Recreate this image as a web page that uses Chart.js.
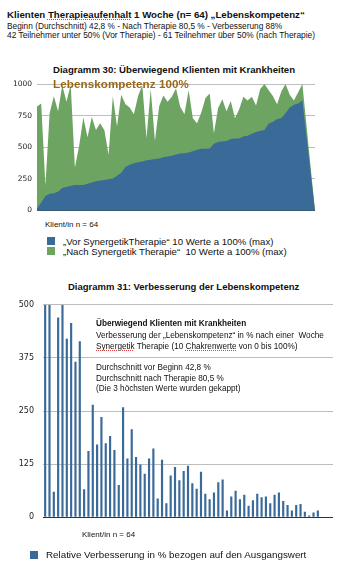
<!DOCTYPE html>
<html>
<head>
<meta charset="utf-8">
<script src="https://cdn.jsdelivr.net/npm/chart.js@4.4.1/dist/chart.umd.min.js"></script>
<style>
body { margin: 0; background: #fff; font-family: 'Liberation Sans', Arial, sans-serif; color: #111; }
#page { position: relative; width: 349px; height: 568px; overflow: hidden; }
.t { position: absolute; white-space: nowrap; line-height: 1; }
.sq { position: absolute; width: 8px; height: 8px; }
.spell { text-decoration: underline dotted #e04040; text-decoration-thickness: 1px; text-underline-offset: 1px; }
canvas { position: absolute; left: 0; }
</style>
</head>
<body>
<div id="page">
  <div class="t" style="left:7px;top:10px;font-size:9.7px;font-weight:bold">Klienten <span class="spell">Therapieaufenhalt</span> 1 Woche (n= 64) „Lebenskompetenz“</div>
  <div class="t" style="left:7px;top:21.5px;font-size:8.3px">Beginn (Durchschnitt) 42,8 % - Nach Therapie 80,5 % - Verbesserung 88%</div>
  <div class="t" style="left:7px;top:31px;font-size:8.4px">42 Teilnehmer unter 50% (Vor Therapie) - 61 Teilnehmer über 50% (nach Therapie)</div>

  <div class="t" style="left:53px;top:65px;font-size:9.6px;font-weight:bold">Diagramm 30: Überwiegend Klienten mit Krankheiten</div>
  <canvas id="chart30" width="349" height="146" style="top:74px"></canvas>
  <div class="t" style="left:53px;top:77.5px;font-size:11.6px;font-weight:bold;color:#9a6814;letter-spacing:0.1px">Lebenskompetenz 100%</div>
  <div class="t" style="left:45px;top:221px;font-size:8px">Klient/in n = 64</div>
  <div class="sq" style="left:47px;top:237px;background:#3a6a98"></div>
  <div class="t" style="left:63px;top:236.5px;font-size:9.6px">„Vor SynergetikTherapie“ 10 Werte a 100% (max)</div>
  <div class="sq" style="left:47px;top:247px;background:#6da462"></div>
  <div class="t" style="left:63px;top:246.5px;font-size:9.6px">„Nach Synergetik Therapie“&nbsp; 10 Werte a 100% (max)</div>

  <div class="t" style="left:68px;top:281.5px;font-size:9.5px;font-weight:bold">Diagramm 31: Verbesserung der Lebenskompetenz</div>
  <canvas id="chart31" width="349" height="240" style="top:291px"></canvas>
  <div class="t" style="left:96px;top:320px;font-size:8.2px;font-weight:bold">Überwiegend Klienten mit Krankheiten</div>
  <div class="t" style="left:96px;top:331.5px;font-size:8.2px">Verbesserung der „Lebenskompetenz“ in % nach einer&nbsp; Woche</div>
  <div class="t" style="left:96px;top:342.5px;font-size:8.2px"><span class="spell">Synergetik</span> Therapie (10 <span class="spell">Chakrenwerte</span> von 0 bis 100%)</div>
  <div class="t" style="left:96px;top:364px;font-size:8.2px">Durchschnitt vor Beginn 42,8 %</div>
  <div class="t" style="left:96px;top:375px;font-size:8.2px">Durchschnitt nach Therapie 80,5 %</div>
  <div class="t" style="left:96px;top:385px;font-size:8.2px">(Die 3 höchsten Werte wurden gekappt)</div>
  <div class="t" style="left:82px;top:531px;font-size:8px">Klient/in n = 64</div>
  <div class="sq" style="left:30px;top:551px;background:#3a6a9a"></div>
  <div class="t" style="left:46px;top:549.5px;font-size:9.8px">Relative Verbesserung in % bezogen auf den Ausgangswert</div>
</div>

<script>
// Diagramm 30: Summe der 10 Chakrenwerte pro Klient/in (max 1000)
let vorTherapie = [15, 64, 115, 132, 137, 148, 178, 186, 196, 201,
    201, 201, 211, 221, 232, 237, 242, 247, 252, 275,
    298, 343, 361, 374, 382, 387, 397, 402, 407, 412,
    420, 427, 433, 443, 450, 453, 458, 468, 481, 489,
    489, 491, 527, 542, 545, 550, 565, 570, 570, 585,
    590, 606, 621, 628, 636, 687, 700, 723, 730, 768,
    814, 835, 845, 870]
let nachTherapie = [822, 845, 195, 770, 903, 785, 990, 860, 995, 340,
    510, 735, 580, 740, 636, 690, 635, 440, 903, 665,
    915, 840, 815, 760, 905, 990, 572, 960, 550, 825,
    910, 860, 900, 965, 820, 760, 950, 730, 690, 775,
    890, 925, 611, 810, 880, 785, 865, 730, 800, 900,
    870, 900, 830, 960, 1000, 950, 905, 840, 940, 1000,
    915, 870, 935, 1000]
// Diagramm 31: relative Verbesserung in % (die 3 hoechsten Werte auf 500 gekappt)
let verbesserung = [500, 500, 60, 470, 500, 420, 457, 366, 414, 66,
    156, 265, 171, 236, 174, 191, 158, 76, 259, 138,
    207, 142, 124, 102, 138, 162, 44, 135, 33, 98,
    118, 87, 109, 121, 80, 67, 107, 55, 42, 58,
    82, 89, 16, 49, 62, 42, 53, 27, 40, 55,
    47, 49, 33, 53, 58, 38, 29, 16, 29, 31,
    13, 4, 11, 16]
// the original charts keep 3 empty categories at the right end
let leereStellen = [null, null, 0]

let klienten = []
for (let i = 1; i <= vorTherapie.length + leereStellen.length; i++) {
    klienten.push(String(i))
}

const blau = '#3a6a98'
const gruen = '#6da462'
const gitter = '#bdbdbd'

let plainTick = value => String(value)

let lineChart = new Chart(document.getElementById('chart30').getContext('2d'), {
    type: 'line',
    data: {
        labels: klienten,
        datasets: [
            {
                label: '„Vor SynergetikTherapie“ 10 Werte a 100% (max)',
                data: vorTherapie.concat(leereStellen),
                backgroundColor: blau,
                borderWidth: 0,
                pointRadius: 0,
                fill: 'origin',
                spanGaps: true
            },
            {
                label: '„Nach Synergetik Therapie“ 10 Werte a 100% (max)',
                data: nachTherapie.concat(leereStellen),
                backgroundColor: gruen,
                borderWidth: 0,
                pointRadius: 0,
                fill: 'origin',
                spanGaps: true
            }
        ]
    },
    options: {
        responsive: false,
        animation: false,
        layout: { padding: { top: 10, bottom: 5, left: 0, right: 34 } },
        plugins: { legend: { display: false }, tooltip: { enabled: false } },
        scales: {
            x: { display: false },
            y: {
                min: 0,
                max: 1000,
                ticks: { stepSize: 250, padding: 5, color: '#222', font: { family: 'DejaVu Sans', size: 7.5 }, callback: plainTick },
                grid: { color: ctx => ctx.tick.value === 0 ? '#34506e' : gitter, drawTicks: false },
                border: { display: false },
                afterFit: scale => { scale.width = 37 }
            }
        }
    }
})

let barChart = new Chart(document.getElementById('chart31').getContext('2d'), {
    type: 'bar',
    data: {
        labels: klienten,
        datasets: [{
            label: 'Relative Verbesserung in % bezogen auf den Ausgangswert',
            data: verbesserung,
            backgroundColor: '#3a6a9a',
            barPercentage: 0.5,
            categoryPercentage: 1
        }]
    },
    options: {
        responsive: false,
        animation: false,
        layout: { padding: { top: 10, bottom: 5, left: 0, right: 16 } },
        plugins: { legend: { display: false }, tooltip: { enabled: false } },
        scales: {
            x: { display: false },
            y: {
                min: 0,
                max: 500,
                ticks: { stepSize: 125, padding: 9, color: '#222', font: { family: 'DejaVu Sans', size: 8 }, callback: plainTick },
                grid: { color: ctx => ctx.tick.value === 0 ? '#333' : gitter, drawTicks: false },
                border: { display: false },
                afterFit: scale => { scale.width = 43 }
            }
        }
    }
})
</script>
</body>
</html>
